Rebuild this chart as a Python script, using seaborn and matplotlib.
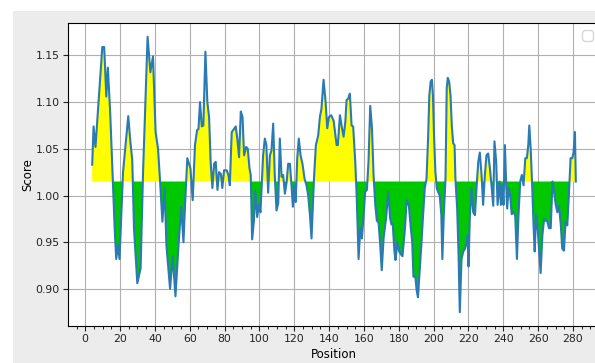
import matplotlib
matplotlib.use("Agg")
import matplotlib.pyplot as plt
import seaborn as sns
import pandas as pd
from matplotlib.patches import Rectangle
from matplotlib.ticker import AutoMinorLocator

# window centre position and averaged score
position = [
    4.0, 4.8, 5.9, 9.8, 10.9, 12.1, 13.0, 14.4, 15.9, 16.9, 17.8, 18.8, 19.7, 21.7, 24.7,
    25.9, 27.0, 28.0, 29.9, 31.8, 33.2, 34.7, 35.8, 37.4, 38.9, 40.4, 41.8, 43.1, 44.3,
    45.6, 46.6, 48.7, 50.2, 51.8, 53.5, 55.1, 56.4, 57.3, 58.6, 60.4, 61.7, 63.0, 64.2,
    65.0, 65.9, 66.9, 67.8, 69.0, 70.1, 71.1, 72.0, 73.0, 74.0, 74.9, 75.9, 76.8, 77.9,
    78.7, 79.7, 81.2, 82.2, 83.0, 84.1, 85.3, 86.4, 87.3, 88.3, 89.3, 90.3, 91.2, 92.4,
    93.3, 94.3, 95.0, 95.8, 96.8, 97.6, 98.7, 99.7, 100.6, 102.1, 103.1, 104.0, 105.0,
    106.0, 106.9, 107.9, 108.8, 109.8, 110.8, 111.7, 112.7, 113.6, 114.6, 115.6, 116.5,
    117.5, 118.4, 119.2, 120.0, 120.8, 121.7, 122.6, 123.6, 124.7, 125.9, 127.0, 128.0,
    129.0, 129.9, 131.3, 132.4, 133.7, 134.7, 135.6, 136.8, 138.0, 138.9, 139.9, 141.2,
    142.6, 144.3, 145.0, 146.2, 147.4, 148.3, 149.3, 150.0, 151.0, 151.9, 152.9, 153.8,
    155.0, 155.8, 156.4, 156.9, 157.9, 158.8, 159.8, 160.7, 161.7, 162.6, 163.6, 164.6,
    165.5, 166.5, 167.4, 168.4, 169.3, 170.2, 171.3, 172.7, 174.0, 175.0, 175.8, 176.5,
    177.5, 178.1, 179.2, 180.2, 181.2, 182.1, 183.5, 184.5, 185.8, 186.7, 187.7, 188.4,
    189.5, 190.2, 191.0, 192.0, 193.0, 193.9, 194.9, 195.9, 196.8, 197.5, 198.3, 199.0,
    199.6, 200.2, 201.0, 201.8, 202.5, 203.5, 204.4, 205.0, 205.8, 206.8, 207.5, 208.1,
    208.9, 209.7, 210.4, 211.2, 212.0, 212.5, 213.5, 214.3, 215.0, 216.0, 217.0, 218.0,
    218.9, 219.5, 220.0, 220.8, 221.8, 222.7, 223.7, 224.6, 225.6, 226.5, 227.5, 228.4,
    229.4, 230.3, 231.3, 232.3, 233.2, 234.2, 234.9, 235.9, 236.7, 237.8, 238.6, 239.4,
    240.1, 240.9, 241.7, 242.2, 243.0, 243.9, 244.8, 245.8, 246.8, 247.8, 248.7, 249.7,
    250.6, 251.6, 252.6, 253.5, 254.3, 254.9, 255.7, 256.6, 257.4, 258.0, 258.8, 259.7,
    260.7, 261.4, 262.4, 263.4, 264.3, 265.3, 266.2, 267.2, 268.2, 269.1, 270.1, 271.0,
    272.0, 273.0, 273.8, 274.8, 275.7, 276.7, 277.6, 278.6, 279.6, 280.3, 281.1, 281.6,
]
score = [
    1.033, 1.074, 1.052, 1.159, 1.159, 1.106, 1.137, 1.086, 1.015, 0.965, 0.932, 0.947, 0.932, 1.025, 1.085,
    1.058, 1.038, 0.965, 0.906, 0.922, 1.025, 1.107, 1.170, 1.132, 1.149, 1.068, 1.050, 1.011, 0.972,
    1.008, 0.947, 0.900, 0.935, 0.892, 0.945, 0.988, 0.950, 0.990, 1.040, 1.029, 0.995, 1.054, 1.070,
    1.071, 1.100, 1.074, 1.075, 1.154, 1.100, 1.084, 1.036, 1.008, 1.034, 1.036, 1.006, 1.025, 1.023,
    1.008, 1.027, 1.027, 1.022, 1.011, 1.068, 1.071, 1.074, 1.061, 1.041, 1.090, 1.084, 1.043, 1.052,
    1.050, 1.029, 1.022, 0.953, 0.972, 1.005, 0.977, 0.990, 0.982, 1.043, 1.061, 1.054, 1.003,
    1.043, 1.048, 1.077, 1.022, 0.984, 0.992, 1.061, 1.020, 1.022, 1.002, 1.014, 1.034,
    1.034, 1.011, 0.988, 1.011, 0.993, 1.040, 1.061, 1.043, 1.034, 1.018, 1.011, 1.000,
    0.979, 0.954, 1.018, 1.054, 1.064, 1.084, 1.093, 1.124, 1.100, 1.072, 1.084, 1.086,
    1.080, 1.054, 1.054, 1.086, 1.072, 1.063, 1.079, 1.102, 1.104, 1.109, 1.075, 1.074,
    1.036, 1.000, 0.965, 0.932, 0.965, 0.954, 0.979, 1.004, 1.006, 1.036, 1.096, 1.072,
    1.022, 0.990, 0.973, 0.971, 0.948, 0.920, 0.955, 0.976, 1.004, 0.976, 0.969, 0.970,
    0.940, 0.931, 0.950, 0.940, 0.937, 0.935, 0.964, 0.995, 0.989, 0.969, 0.950, 0.913,
    0.913, 0.899, 0.891, 0.920, 0.949, 0.978, 1.008, 1.018, 1.061, 1.107, 1.122, 1.124,
    1.107, 1.065, 1.025, 1.008, 1.004, 1.000, 0.979, 0.932, 0.979, 1.018, 1.115, 1.126,
    1.122, 1.107, 1.075, 1.056, 1.054, 1.018, 0.986, 0.936, 0.875, 0.932, 0.940, 0.943,
    0.950, 0.957, 0.924, 0.979, 1.008, 0.982, 0.979, 1.008, 1.036, 1.046, 1.022, 0.990,
    1.022, 1.043, 1.045, 1.029, 1.011, 0.989, 1.058, 1.036, 0.990, 1.015, 0.990, 1.011,
    0.990, 1.054, 1.008, 0.986, 1.008, 1.000, 0.980, 0.982, 0.979, 0.932, 0.979, 1.015,
    1.022, 1.011, 1.040, 1.040, 1.054, 1.075, 1.050, 1.008, 0.965, 0.940, 0.979, 0.965,
    0.936, 0.917, 0.957, 0.975, 0.973, 0.972, 0.965, 0.965, 1.015, 1.004, 0.990, 0.982,
    0.989, 0.968, 0.943, 0.941, 0.972, 0.968, 1.000, 1.040, 1.040, 1.046, 1.068, 1.015,
]
threshold = 1.015

df = pd.DataFrame({"Position": position, "Score": score})

fig = plt.figure(figsize=(5.95, 3.63), dpi=100, facecolor="white")
# grey canvas of the original window (image is cropped at top/left)
fig.patches.append(Rectangle((13 / 595, 0), 1, 1 - 11 / 363, transform=fig.transFigure,
                             facecolor="#ececec", edgecolor="none", zorder=-10))
ax = fig.add_axes([68 / 595, 37 / 363, 532 / 595, 303 / 363])

ax.fill_between(df["Position"], df["Score"], threshold, where=df["Score"] >= threshold,
                interpolate=True, color="#ffff00", linewidth=0)
ax.fill_between(df["Position"], df["Score"], threshold, where=df["Score"] <= threshold,
                interpolate=True, color="#00c800", linewidth=0)
sns.lineplot(data=df, x="Position", y="Score", ax=ax, color="#2a7ab4", linewidth=1.5,
             sort=False)

ax.set_axisbelow(True)
ax.grid(True, color="#b0b0b0", linewidth=0.8)
ax.set_xticks(range(0, 281, 20))
ax.xaxis.set_minor_locator(AutoMinorLocator(4))
ax.tick_params(axis="both", labelsize=7.8, colors="#222222", pad=2.5, length=3.5)
ax.tick_params(axis="x", which="minor", length=2)
ax.set_xlabel("Position", fontsize=8.5, labelpad=3)
ax.set_ylabel("Score", fontsize=8.5, labelpad=1)
ax.margins(x=0.05, y=0.05)
ax.legend(handles=[], loc="upper right")

fig.savefig("out.png", dpi=100, facecolor=fig.get_facecolor())
